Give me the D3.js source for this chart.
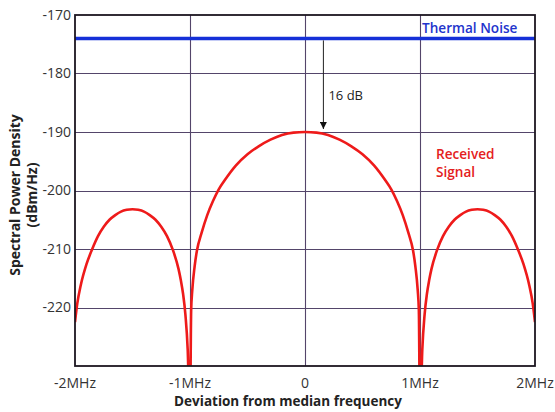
<!DOCTYPE html>
<html>
<head>
<meta charset="utf-8">
<script src="https://cdn.jsdelivr.net/npm/d3@7/dist/d3.min.js"></script>
<style>
  html, body { margin: 0; padding: 0; background: #fff; }
  svg { display: block; font-family: "Open Sans", "Noto Sans", "DejaVu Sans", sans-serif; }
</style>
</head>
<body>
<svg id="chart" width="555" height="412"></svg>
<script>
// ---- data ----
const freqMHz = [
  -2.0, -1.98, -1.95, -1.9, -1.85, -1.8, -1.75, -1.7, -1.65, -1.6, -1.55, -1.5, -1.45, -1.4, -1.35, -1.3, -1.25, -1.2, -1.15, -1.1, -1.08, -1.06, -1.04, -1.02, -1.0,
  -0.99, -0.98, -0.96, -0.94, -0.9, -0.85, -0.8, -0.75, -0.7, -0.6, -0.5, -0.4, -0.3, -0.2, -0.1,
  0,
  0.1, 0.2, 0.3, 0.4, 0.5, 0.6, 0.7, 0.75, 0.8, 0.85, 0.9, 0.94, 0.96, 0.98, 0.99,
  1.0, 1.02, 1.04, 1.06, 1.08, 1.1, 1.15, 1.2, 1.25, 1.3, 1.35, 1.4, 1.45, 1.5, 1.55, 1.6, 1.65, 1.7, 1.75, 1.8, 1.85, 1.9, 1.95, 1.98, 2.0
];
const signalDb = [
  -222.5, -219.3, -216.2, -212.6, -210.0, -207.8, -206.2, -205.0, -204.2, -203.6, -203.3, -203.2, -203.3, -203.6, -204.2, -205.0, -206.2, -207.8, -210.1, -213.4, -215.3, -217.7, -221.2, -227.2, -240,
  -220.5, -217, -213, -210.3, -207.3, -204.2, -201.8, -199.8, -198.3, -195.7, -193.8, -192.4, -191.3, -190.5, -190.1,
  -190,
  -190.1, -190.5, -191.3, -192.4, -193.8, -195.7, -198.3, -199.8, -201.8, -204.2, -207.3, -210.3, -213, -217, -220.5,
  -240, -227.2, -221.2, -217.7, -215.3, -213.4, -210.1, -207.8, -206.2, -205.0, -204.2, -203.6, -203.3, -203.2, -203.3, -203.6, -204.2, -205.0, -206.2, -207.8, -210.0, -212.6, -216.2, -219.3, -222.5
];
const thermalNoiseDb = -174;
const arrowFreq = 0.16;
const arrowLabel = "16 dB";
const xTicks = [-2, -1, 0, 1, 2];
const xTickLabels = ["-2MHz", "-1MHz", "0", "1MHz", "2MHz"];
const yTicks = [-170, -180, -190, -200, -210, -220];
const yDomain = [-230, -170];
const xDomain = [-2, 2];
const signalLabelLines = ["Received", "Signal"];

// ---- layout ----
const svg = d3.select("#chart");
const L = 75, R = 535, T = 15, B = 366;
const x = d3.scaleLinear().domain(xDomain).range([L, R]);
const y = d3.scaleLinear().domain(yDomain).range([B, T]);

const gridColor = "#54456a";

svg.append("defs").append("clipPath").attr("id", "plotclip")
  .append("rect").attr("x", L).attr("y", T).attr("width", R - L).attr("height", B - T);
svg.select("defs").append("marker")
  .attr("id", "arrowhead").attr("viewBox", "0 0 10 10")
  .attr("refX", 10).attr("refY", 5)
  .attr("markerWidth", 7).attr("markerHeight", 7)
  .attr("markerUnits", "userSpaceOnUse")
  .attr("orient", "auto")
  .append("path").attr("d", "M0,0 L10,5 L0,10 Z").attr("fill", "#111");

// gridlines
const grid = svg.append("g");
grid.selectAll("line.h").data(yTicks.filter(d => d > yDomain[0] && d < yDomain[1]))
  .join("line")
  .attr("x1", L).attr("x2", R)
  .attr("y1", d => Math.round(y(d)) + 0.5).attr("y2", d => Math.round(y(d)) + 0.5)
  .attr("stroke", gridColor).attr("stroke-width", 1.1);
grid.selectAll("line.v").data(xTicks.filter(d => d > xDomain[0] && d < xDomain[1]))
  .join("line")
  .attr("y1", T).attr("y2", B)
  .attr("x1", d => Math.round(x(d)) + 0.5).attr("x2", d => Math.round(x(d)) + 0.5)
  .attr("stroke", gridColor).attr("stroke-width", 1.1);

// signal curve
const pts = freqMHz.map((f, i) => [f, signalDb[i]]);
svg.append("path")
  .datum(pts)
  .attr("clip-path", "url(#plotclip)")
  .attr("fill", "none")
  .attr("stroke", "#ee1a1a")
  .attr("stroke-width", 2.6)
  .attr("stroke-linejoin", "round")
  .attr("d", d3.line().x(d => x(d[0])).y(d => y(d[1])).curve(d3.curveMonotoneX));

// thermal noise line
svg.append("line")
  .attr("x1", L).attr("x2", R)
  .attr("y1", y(thermalNoiseDb)).attr("y2", y(thermalNoiseDb))
  .attr("stroke", "#1530d8").attr("stroke-width", 3.5);

// border
svg.append("rect")
  .attr("x", L).attr("y", T).attr("width", R - L).attr("height", B - T)
  .attr("fill", "none").attr("stroke", "#1c1620").attr("stroke-width", 1.8);

// arrow annotation
svg.append("line")
  .attr("x1", x(arrowFreq)).attr("x2", x(arrowFreq))
  .attr("y1", y(thermalNoiseDb) + 2).attr("y2", y(-190) - 3)
  .attr("stroke", "#222").attr("stroke-width", 1)
  .attr("marker-end", "url(#arrowhead)");
svg.append("text")
  .attr("x", x(arrowFreq) + 5).attr("y", 100)
  .attr("font-size", 13).attr("fill", "#222")
  .text(arrowLabel);

// labels inside plot
svg.append("text")
  .attr("x", 422).attr("y", 33)
  .attr("font-size", 13.6).attr("font-weight", 600).attr("fill", "#2233cc")
  .text("Thermal Noise");
svg.append("g").selectAll("text").data(signalLabelLines).join("text")
  .attr("x", 436).attr("y", (d, i) => 159 + i * 17.5)
  .attr("font-size", 13.6).attr("font-weight", 600).attr("fill", "#e42020")
  .text(d => d);

// y tick labels
svg.append("g").selectAll("text").data(yTicks).join("text")
  .attr("x", 71).attr("y", d => y(d)).attr("dy", "0.35em")
  .attr("text-anchor", "end").attr("font-size", 14).attr("fill", "#333")
  .text(d => d);

// x tick labels
svg.append("g").selectAll("text").data(xTicks).join("text")
  .attr("x", d => x(d)).attr("y", 388)
  .attr("text-anchor", "middle").attr("font-size", 14).attr("fill", "#333")
  .text((d, i) => xTickLabels[i]);

// axis titles
svg.append("text")
  .attr("x", 288).attr("y", 406)
  .attr("text-anchor", "middle").attr("font-size", 13.5).attr("font-weight", "bold").attr("fill", "#222")
  .text("Deviation from median frequency");
const yt = svg.append("text")
  .attr("transform", "translate(0,195) rotate(-90)")
  .attr("text-anchor", "middle").attr("font-size", 14).attr("font-weight", "bold").attr("fill", "#222");
yt.append("tspan").attr("x", 0).attr("y", 20).text("Spectral Power Density");
yt.append("tspan").attr("x", 0).attr("y", 37).text("(dBm/Hz)");
</script>
</body>
</html>
